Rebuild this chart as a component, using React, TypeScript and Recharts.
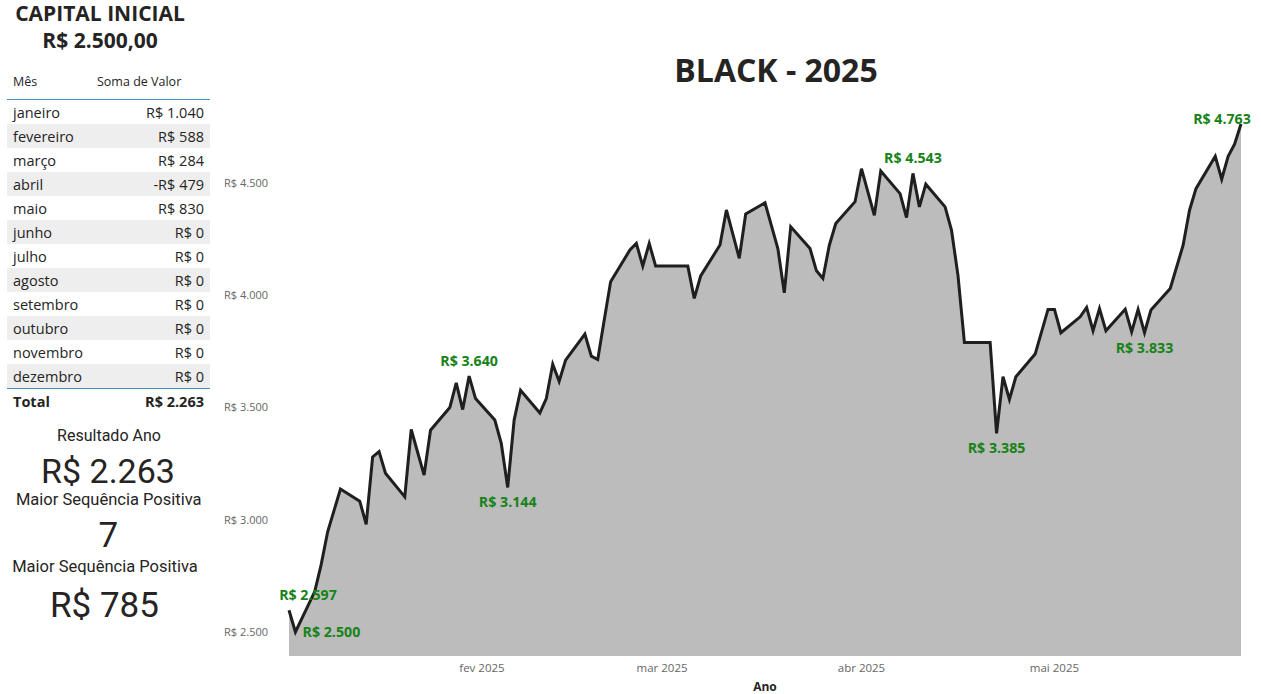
import React from 'react';
import { AreaChart, Area, XAxis, YAxis } from 'recharts';

// saldo acumulado por pregão
const dates = [
  '2025-01-02', '2025-01-03', '2025-01-06', '2025-01-07', '2025-01-08', '2025-01-10',
  '2025-01-13', '2025-01-14', '2025-01-15', '2025-01-16', '2025-01-17', '2025-01-20',
  '2025-01-21', '2025-01-23', '2025-01-24', '2025-01-27', '2025-01-28', '2025-01-29',
  '2025-01-30', '2025-01-31', '2025-02-03', '2025-02-04', '2025-02-05', '2025-02-06',
  '2025-02-07', '2025-02-10', '2025-02-11', '2025-02-12', '2025-02-13', '2025-02-14',
  '2025-02-17', '2025-02-18', '2025-02-19', '2025-02-20', '2025-02-21', '2025-02-24',
  '2025-02-25', '2025-02-26', '2025-02-27', '2025-02-28', '2025-03-05', '2025-03-06',
  '2025-03-07', '2025-03-10', '2025-03-11', '2025-03-13', '2025-03-14', '2025-03-17',
  '2025-03-19', '2025-03-20', '2025-03-21', '2025-03-24', '2025-03-25', '2025-03-26',
  '2025-03-27', '2025-03-28', '2025-03-31', '2025-04-01', '2025-04-03', '2025-04-04',
  '2025-04-07', '2025-04-08', '2025-04-09', '2025-04-10', '2025-04-11', '2025-04-14',
  '2025-04-15', '2025-04-16', '2025-04-17', '2025-04-21', '2025-04-22', '2025-04-23',
  '2025-04-24', '2025-04-25', '2025-04-28', '2025-04-30', '2025-05-01', '2025-05-02',
  '2025-05-05', '2025-05-06', '2025-05-07', '2025-05-08', '2025-05-09', '2025-05-12',
  '2025-05-13', '2025-05-14', '2025-05-15', '2025-05-16', '2025-05-19', '2025-05-21',
  '2025-05-22', '2025-05-23', '2025-05-26', '2025-05-27', '2025-05-28', '2025-05-29',
  '2025-05-30',
];

const values = [
  2597, 2500, 2680, 2800, 2945, 3137,
  3083, 2980, 3280, 3304, 3207, 3102,
  3402, 3199, 3399, 3500, 3610, 3491,
  3640, 3540, 3444, 3340, 3144, 3444,
  3577, 3476, 3540, 3693, 3617, 3711,
  3827, 3729, 3714, 3889, 4060, 4202,
  4231, 4130, 4231, 4130, 4130, 3986,
  4086, 4224, 4380, 4165, 4362, 4412,
  4208, 4011, 4305, 4208, 4109, 4075,
  4223, 4320, 4417, 4564, 4356, 4554,
  4453, 4346, 4543, 4394, 4495, 4394,
  4289, 4089, 3790, 3790, 3385, 3637,
  3536, 3637, 3738, 3937, 3937, 3833,
  3904, 3946, 3842, 3941, 3842, 3938,
  3837, 3937, 3833, 3934, 4030, 4223,
  4379, 4475, 4619, 4517, 4619, 4673,
  4763,
];

// pontos com rótulo e onde o rótulo fica
const labelPlacement: Record<string, string> = {
  '2025-01-02': 'above',
  '2025-01-03': 'right',
  '2025-01-30': 'above',
  '2025-02-05': 'below',
  '2025-04-09': 'above',
  '2025-04-22': 'below',
  '2025-05-15': 'below',
  '2025-05-30': 'corner',
};

const xTicks = ['2025-02-01', '2025-03-01', '2025-04-01', '2025-05-01'];
const xTickLabels = ['fev 2025', 'mar 2025', 'abr 2025', 'mai 2025'];
const yTicks = [2500, 3000, 3500, 4000, 4500];

const monthNames = [
  'janeiro', 'fevereiro', 'março', 'abril', 'maio', 'junho',
  'julho', 'agosto', 'setembro', 'outubro', 'novembro', 'dezembro',
];
const monthTotals = [1040, 588, 284, -479, 830, 0, 0, 0, 0, 0, 0, 0];

const capitalInicial = 2500;
const maiorSequencia = 7;
const maiorSequenciaValor = 785;

const ts = (d: string) => Date.UTC(+d.slice(0, 4), +d.slice(5, 7) - 1, +d.slice(8, 10));

const fmt = (v: number) => {
  const s = Math.abs(Math.round(v)).toString().replace(/\B(?=(\d{3})+(?!\d))/g, '.');
  return (v < 0 ? '-' : '') + 'R$ ' + s;
};

const data = dates.map((d, i) => ({ t: ts(d), valor: values[i] }));
const xTickTs = xTicks.map(ts);
const total = monthTotals.reduce((a, b) => a + b, 0);

const DARK = '#252423';
const GREEN = '#178217';
const PLOT_LEFT = 74;
const PLOT_RIGHT = 1026;

const PointLabel = (props: any) => {
  const { cx, cy, index } = props;
  const place = labelPlacement[dates[index]];
  if (!place) return <g key={index} />;
  const half = 29;
  let x = cx;
  let y = cy;
  if (place === 'above') y = cy - 15;
  if (place === 'below') y = cy + 15;
  if (place === 'right') x = cx + 7 + half;
  if (place === 'corner') y = cy - 5;
  x = Math.max(x, PLOT_LEFT - 10 + half);
  x = Math.min(x, PLOT_RIGHT + 10 - half);
  return (
    <text key={index} x={x} y={y + 5} textAnchor="middle" fill={GREEN}
      fontFamily="Open Sans" fontWeight="bold" fontSize={14.2}>
      {fmt(values[index])}
    </text>
  );
};

const Card = ({ text, size, cy, cx }: { text: string; size: number; cy: number; cx: number }) => (
  <div style={{
    position: 'absolute', left: cx - 150, width: 300, top: cy - 0.487 * size,
    textAlign: 'center', fontFamily: 'Roboto', fontSize: size, lineHeight: `${size}px`,
    color: DARK, whiteSpace: 'nowrap',
  }}>{text}</div>
);

const App = () => {
  return (
    <div style={{ position: 'absolute', left: 0, top: 0, width: 1261, height: 694, background: '#fff', overflow: 'hidden', fontFamily: 'Open Sans', color: DARK }}>
      <div style={{ position: 'absolute', left: 0, width: 200, top: 3, textAlign: 'center', fontWeight: 'bold', fontSize: 21, lineHeight: '21px' }}>
        CAPITAL INICIAL
      </div>
      <div style={{ position: 'absolute', left: 0, width: 200, top: 30, textAlign: 'center', fontWeight: 'bold', fontSize: 21, lineHeight: '21px' }}>
        {fmt(capitalInicial)},00
      </div>

      <div style={{ position: 'absolute', left: 13, top: 76, fontSize: 12.5, lineHeight: '12px' }}>Mês</div>
      <div style={{ position: 'absolute', left: 97, top: 76, fontSize: 12.5, lineHeight: '12px' }}>Soma de Valor</div>

      <div style={{ position: 'absolute', left: 7, top: 99, width: 203, borderTop: '1px solid #3d97c4', borderBottom: '1px solid #3d97c4' }}>
        {monthNames.map((m, i) => (
          <div key={m} style={{
            height: 24, display: 'flex', justifyContent: 'space-between', alignItems: 'center',
            background: i % 2 ? '#eeeeee' : '#ffffff', padding: '0 6px 0 6px', boxSizing: 'border-box', fontSize: 14.5,
          }}>
            <span>{m}</span><span>{fmt(monthTotals[i])}</span>
          </div>
        ))}
      </div>
      <div style={{
        position: 'absolute', left: 7, top: 389, width: 203, height: 24, display: 'flex', justifyContent: 'space-between',
        alignItems: 'center', padding: '0 6px', boxSizing: 'border-box', fontSize: 14.5, fontWeight: 'bold',
      }}>
        <span>Total</span><span>{fmt(total)}</span>
      </div>

      <Card text="Resultado Ano" size={16} cy={435.5} cx={109} />
      <Card text={fmt(total)} size={34} cy={471} cx={108} />
      <Card text="Maior Sequência Positiva" size={16.5} cy={500.5} cx={108.7} />
      <Card text={String(maiorSequencia)} size={35} cy={535.5} cx={108.3} />
      <Card text="Maior Sequência Positiva" size={16.5} cy={567} cx={105} />
      <Card text={fmt(maiorSequenciaValor)} size={35} cy={605.5} cx={104.5} />

      <div style={{ position: 'absolute', left: 476, width: 600, top: 54, textAlign: 'center', fontWeight: 'bold', fontSize: 32, lineHeight: '32px' }}>
        BLACK - 2025
      </div>

      <div style={{ position: 'absolute', left: 215, top: 0, width: 1046, height: 694 }}>
        <AreaChart width={1046} height={694} data={data} margin={{ top: 100, right: 20, bottom: 0, left: 14 }}>
          <XAxis
            dataKey="t"
            type="number"
            domain={[ts(dates[0]), ts(dates[dates.length - 1])]}
            ticks={xTickTs}
            interval={0}
            tickFormatter={(v: number) => xTickLabels[xTickTs.indexOf(v)]}
            axisLine={false}
            tickLine={false}
            tickSize={6}
            tickMargin={2}
            height={38}
            tick={{ fill: '#666666', fontSize: 11.5, fontFamily: 'Open Sans' }}
            label={{ value: 'Ano', position: 'insideBottom', offset: 3, fill: DARK, fontSize: 12, fontWeight: 'bold', fontFamily: 'Open Sans' }}
          />
          <YAxis
            type="number"
            domain={[2393, 4870]}
            allowDataOverflow
            ticks={yTicks}
            interval={0}
            tickFormatter={fmt}
            axisLine={false}
            tickLine={false}
            tickSize={6}
            tickMargin={15}
            width={60}
            tick={{ fill: '#666666', fontSize: 11, fontFamily: 'Open Sans' }}
          />
          <Area
            type="linear"
            dataKey="valor"
            stroke="#1f1f1f"
            strokeWidth={3}
            fill="#bcbcbc"
            fillOpacity={1}
            dot={PointLabel}
            activeDot={false}
            isAnimationActive={false}
          />
        </AreaChart>
      </div>
    </div>
  );
};

export default App;
